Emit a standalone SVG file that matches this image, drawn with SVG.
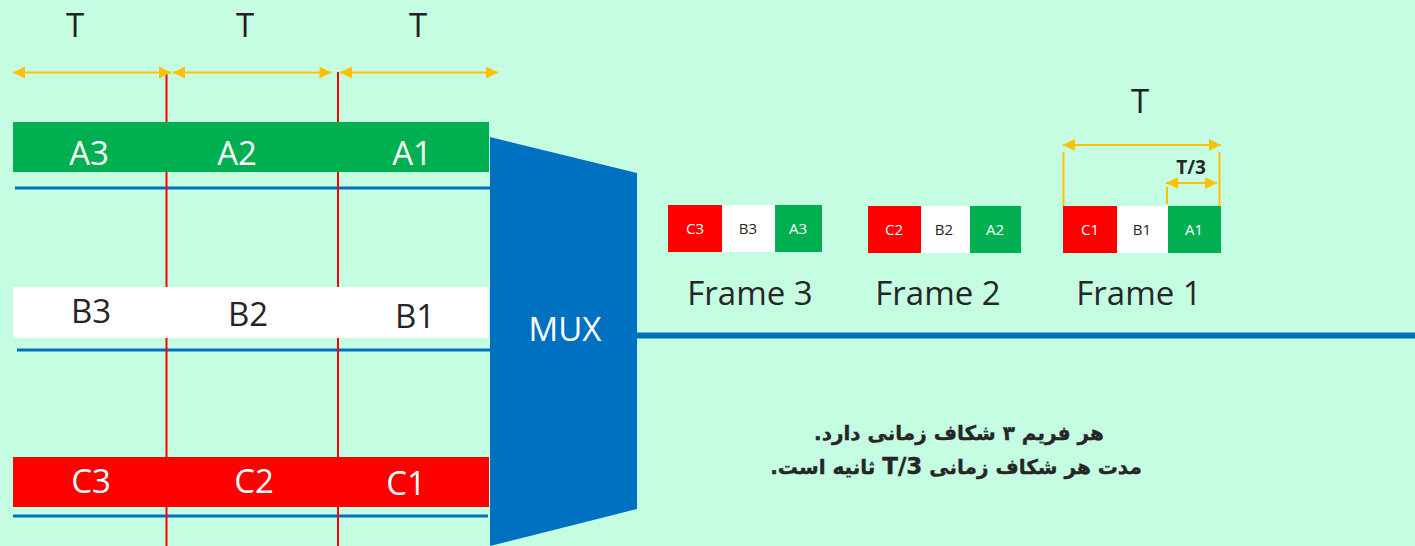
<svg xmlns="http://www.w3.org/2000/svg" width="1415" height="546" viewBox="0 0 1415 546">
<style>
.lat{font-family:"Open Sans","Liberation Sans",sans-serif;text-anchor:middle}
.big{font-size:33px}
.sm{font-size:15px}
.w{fill:#ffffff}
.d{fill:#262626}
.or{stroke:#ffc000;stroke-width:2;fill:none}
.rl{stroke:#ff0000;stroke-width:2}
.bl{stroke:#0070c0;stroke-width:3}
.fa{font-family:"DejaVu Sans",sans-serif;font-weight:bold;font-size:20px;fill:#262626;stroke:#262626;stroke-width:0.4;text-anchor:middle;direction:rtl}
</style>
<defs>
<marker id="ah" viewBox="0 0 12 12" refX="12" refY="6" markerWidth="13" markerHeight="12" markerUnits="userSpaceOnUse" orient="auto-start-reverse">
<path d="M0,0 L12,6 L0,12 Z" fill="#ffc000"/>
</marker>
</defs>
<rect width="1415" height="546" fill="#c5fde3"/>
<g id="connectors">
<line class="bl" x1="15" y1="188" x2="490" y2="188"/>
<line class="bl" x1="17" y1="350" x2="490" y2="350"/>
<line class="bl" x1="13" y1="516" x2="488" y2="516"/>
<line x1="636" y1="335.5" x2="1415" y2="335.5" stroke="#0070c0" stroke-width="6"/>
<line class="rl" x1="166.5" y1="74" x2="166.5" y2="546"/>
<line class="rl" x1="338" y1="72" x2="338" y2="546"/>
<line class="or" x1="13" y1="72.5" x2="171" y2="72.5" marker-start="url(#ah)" marker-end="url(#ah)"/>
<line class="or" x1="173" y1="72.5" x2="331.5" y2="72.5" marker-start="url(#ah)" marker-end="url(#ah)"/>
<line class="or" x1="340" y1="72.5" x2="498" y2="72.5" marker-start="url(#ah)" marker-end="url(#ah)"/>
<line class="or" x1="1063" y1="145" x2="1221" y2="145" marker-start="url(#ah)" marker-end="url(#ah)"/>
<line class="or" x1="1063.5" y1="152" x2="1063.5" y2="206"/>
<line class="or" x1="1219.5" y1="152" x2="1219.5" y2="206"/>
<line class="or" x1="1166" y1="183" x2="1217" y2="183" marker-start="url(#ah)" marker-end="url(#ah)"/>
<line class="or" x1="1167" y1="187" x2="1167" y2="204"/>
</g>
<g id="T-labels">
<text class="lat big" x="75" y="37" fill="#222">T</text>
<text class="lat big" x="245" y="37" fill="#222">T</text>
<text class="lat big" x="418" y="37" fill="#222">T</text>
<text class="lat big" x="1140" y="113" fill="#222">T</text>
<text class="lat" x="1191" y="174" font-size="19" font-weight="bold" fill="#262626">T/3</text>
</g>
<g id="row-A">
<rect x="13" y="122" width="476" height="50" fill="#00b050"/>
<text class="lat big w" x="89" y="165">A3</text>
<text class="lat big w" x="237" y="165">A2</text>
<text class="lat big w" x="412" y="165">A1</text>
</g>
<g id="row-B">
<rect x="13" y="287" width="476" height="51" fill="#ffffff"/>
<text class="lat big d" x="91" y="323">B3</text>
<text class="lat big d" x="248" y="326">B2</text>
<text class="lat big d" x="415" y="328">B1</text>
</g>
<g id="row-C">
<rect x="13" y="457" width="476" height="50" fill="#ff0000"/>
<text class="lat big w" x="91" y="493">C3</text>
<text class="lat big w" x="254" y="493">C2</text>
<text class="lat big w" x="406" y="495">C1</text>
</g>
<g id="mux">
<path d="M490,137 L637,173 L637,509 L490,546 Z" fill="#0070c0"/>
<text class="lat big w" x="565" y="341">MUX</text>
</g>
<g id="frame3">
<rect x="668" y="205" width="54" height="47" fill="#ff0000"/>
<rect x="722" y="205" width="53" height="47" fill="#ffffff"/>
<rect x="775" y="205" width="47" height="47" fill="#00b050"/>
<text class="lat sm w" x="695" y="234">C3</text>
<text class="lat sm d" x="748" y="234">B3</text>
<text class="lat sm w" x="798" y="234">A3</text>
<text class="lat big d" x="750" y="305">Frame 3</text>
</g>
<g id="frame2">
<rect x="868" y="206" width="53" height="47" fill="#ff0000"/>
<rect x="921" y="206" width="49" height="47" fill="#ffffff"/>
<rect x="970" y="206" width="51" height="47" fill="#00b050"/>
<text class="lat sm w" x="894" y="235">C2</text>
<text class="lat sm d" x="944" y="235">B2</text>
<text class="lat sm w" x="995" y="235">A2</text>
<text class="lat big d" x="938" y="305">Frame 2</text>
</g>
<g id="frame1">
<rect x="1063" y="206" width="54" height="47" fill="#ff0000"/>
<rect x="1117" y="206" width="51" height="47" fill="#ffffff"/>
<rect x="1168" y="206" width="53" height="47" fill="#00b050"/>
<text class="lat sm w" x="1090" y="235">C1</text>
<text class="lat sm d" x="1142" y="235">B1</text>
<text class="lat sm w" x="1194" y="235">A1</text>
<text class="lat big d" x="1139" y="305">Frame 1</text>
</g>
<g id="caption">
<text class="fa" x="959" y="440">هر فریم ۳ شکاف زمانی دارد.</text>
<text class="fa" x="956" y="474">مدت هر شکاف زمانی <tspan font-size="23">T/3</tspan> ثانیه است.</text>
</g>
</svg>
